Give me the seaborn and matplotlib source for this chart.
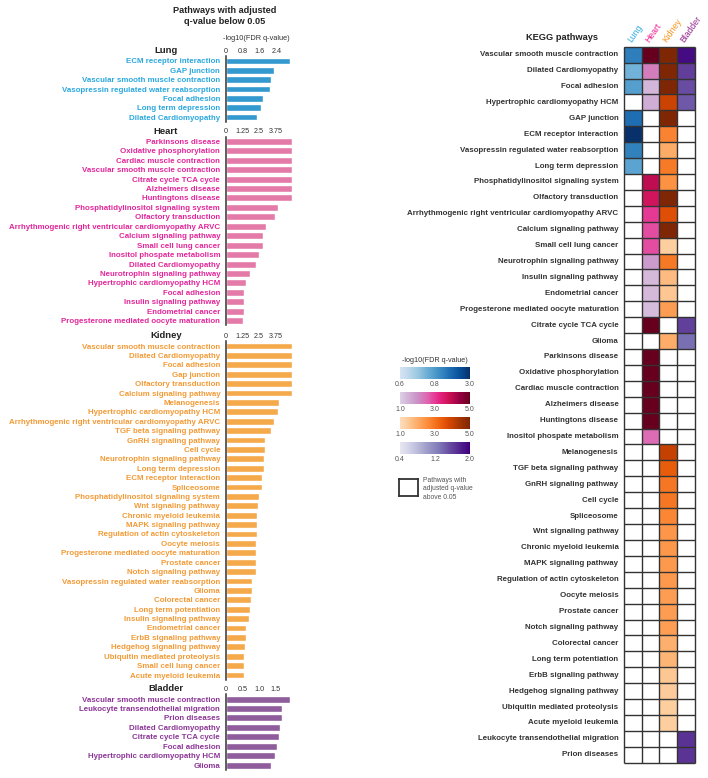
import numpy as np
import pandas as pd
import matplotlib
matplotlib.use('Agg')
from matplotlib import pyplot as plt
from matplotlib import colors as mcolors
from matplotlib.cm import ScalarMappable
import seaborn as sns

sns.set_style('white')
plt.rcParams['font.family'] = ['Liberation Sans', 'DejaVu Sans']

# datos de barras (-log10 FDR q-value)
lung_paths = ['ECM receptor interaction', 'GAP junction', 'Vascular smooth muscle contraction',
              'Vasopressin regulated water reabsorption', 'Focal adhesion', 'Long term depression',
              'Dilated Cardiomyopathy']
lung_vals = [3.0, 2.29, 2.12, 2.09, 1.74, 1.68, 1.49]

heart_paths = ['Parkinsons disease', 'Oxidative phosphorylation', 'Cardiac muscle contraction',
               'Vascular smooth muscle contraction', 'Citrate cycle TCA cycle', 'Alzheimers disease',
               'Huntingtons disease', 'Phosphatidylinositol signaling system', 'Olfactory transduction',
               'Arrhythmogenic right ventricular cardiomyopathy ARVC', 'Calcium signaling pathway',
               'Small cell lung cancer', 'Inositol phospate metabolism', 'Dilated Cardiomyopathy',
               'Neurotrophin signaling pathway', 'Hypertrophic cardiomyopathy HCM', 'Focal adhesion',
               'Insulin signaling pathway', 'Endometrial cancer', 'Progesterone mediated oocyte maturation']
heart_vals = [5.0, 5.0, 5.0, 5.0, 5.0, 5.0, 5.0, 3.95, 3.7, 3.0, 2.8, 2.8, 2.48, 2.25,
              1.83, 1.55, 1.4, 1.35, 1.35, 1.3]

kidney_paths = ['Vascular smooth muscle contraction', 'Dilated Cardiomyopathy', 'Focal adhesion',
                'Gap junction', 'Olfactory transduction', 'Calcium signaling pathway', 'Melanogenesis',
                'Hypertrophic cardiomyopathy HCM', 'Arrhythmogenic right ventricular cardiomyopathy ARVC',
                'TGF beta signaling pathway', 'GnRH signaling pathway', 'Cell cycle',
                'Neurotrophin signaling pathway', 'Long term depression', 'ECM receptor interaction',
                'Spliceosome', 'Phosphatidylinositol signaling system', 'Wnt signaling pathway',
                'Chronic myeloid leukemia', 'MAPK signaling pathway', 'Regulation of actin cytoskeleton',
                'Oocyte meiosis', 'Progesterone mediated oocyte maturation', 'Prostate cancer',
                'Notch signaling pathway', 'Vasopressin regulated water reabsorption', 'Glioma',
                'Colorectal cancer', 'Long term potentiation', 'Insulin signaling pathway',
                'Endometrial cancer', 'ErbB signaling pathway', 'Hedgehog signaling pathway',
                'Ubiquitin mediated proteolysis', 'Small cell lung cancer', 'Acute myeloid leukemia']
kidney_vals = [5.0, 5.0, 5.0, 5.0, 5.0, 5.0, 4.03, 3.95, 3.65, 3.38, 2.93, 2.93, 2.9, 2.88,
               2.73, 2.7, 2.48, 2.4, 2.38, 2.33, 2.33, 2.28, 2.28, 2.28, 2.25, 2.0, 1.98, 1.93,
               1.83, 1.73, 1.53, 1.5, 1.43, 1.4, 1.4, 1.38]

bladder_paths = ['Vascular smooth muscle contraction', 'Leukocyte transendothelial migration',
                 'Prion diseases', 'Dilated Cardiomyopathy', 'Citrate cycle TCA cycle', 'Focal adhesion',
                 'Hypertrophic cardiomyopathy HCM', 'Glioma']
bladder_vals = [1.92, 1.69, 1.68, 1.62, 1.60, 1.54, 1.47, 1.34]

kegg_rows = ['Vascular smooth muscle contraction', 'Dilated Cardiomyopathy', 'Focal adhesion',
             'Hypertrophic cardiomyopathy HCM', 'GAP junction', 'ECM receptor interaction',
             'Vasopressin regulated water reabsorption', 'Long term depression',
             'Phosphatidylinositol signaling system', 'Olfactory transduction',
             'Arrhythmogenic right ventricular cardiomyopathy ARVC', 'Calcium signaling pathway',
             'Small cell lung cancer', 'Neurotrophin signaling pathway', 'Insulin signaling pathway',
             'Endometrial cancer', 'Progesterone mediated oocyte maturation', 'Citrate cycle TCA cycle',
             'Glioma', 'Parkinsons disease', 'Oxidative phosphorylation', 'Cardiac muscle contraction',
             'Alzheimers disease', 'Huntingtons disease', 'Inositol phospate metabolism',
             'Melanogenesis', 'TGF beta signaling pathway', 'GnRH signaling pathway', 'Cell cycle',
             'Spliceosome', 'Wnt signaling pathway', 'Chronic myeloid leukemia', 'MAPK signaling pathway',
             'Regulation of actin cytoskeleton', 'Oocyte meiosis', 'Prostate cancer',
             'Notch signaling pathway', 'Colorectal cancer', 'Long term potentiation',
             'ErbB signaling pathway', 'Hedgehog signaling pathway', 'Ubiquitin mediated proteolysis',
             'Acute myeloid leukemia', 'Leukocyte transendothelial migration', 'Prion diseases']

tissues = ['Lung', 'Heart', 'Kidney', 'Bladder']
tick_sets = [[0, 0.8, 1.6, 2.4], [0, 1.25, 2.5, 3.75], [0, 1.25, 2.5, 3.75], [0, 0.5, 1.0, 1.5]]
tick_text = [['0', '0.8', '1.6', '2.4'], ['0', '1.25', '2.5', '3.75'],
             ['0', '1.25', '2.5', '3.75'], ['0', '0.5', '1.0', '1.5']]
cbar_lims = [(0.6, 3.0), (1.0, 5.0), (1.0, 5.0), (0.4, 2.0)]
cbar_text = [['0.6', '0.8', '3.0'], ['1.0', '3.0', '5.0'], ['1.0', '3.0', '5.0'], ['0.4', '1.2', '2.0']]

bar_colors = ['#3399cf', '#e47aa8', '#f4a94b', '#8f5c9c']
text_colors = ['#2aa8df', '#e2269a', '#f39a35', '#8b3596']
head_colors = ['#2aa8df', '#ec1c8f', '#f7941d', '#92278f']
cmap_names = ['Blues', 'PuRd', 'Oranges', 'Purples']

W, H = 708, 778
fs_lab = 5.7


def caja(l, t, r, b):
    return [l / W, 1 - b / H, (r - l) / W, (b - t) / H]


def recortar(nombre, lo=0.18):
    base = plt.get_cmap(nombre)
    return mcolors.ListedColormap(base(np.linspace(lo, 1, 256)))


fig = plt.figure(figsize=(W / 100, H / 100), dpi=100)

# paneles de barras
paneles = [(lung_paths, lung_vals, 56.3, 121.7, 3.21),
           (heart_paths, heart_vals, 136.6, 325.4, 5.12),
           (kidney_paths, kidney_vals, 341.3, 679.7, 5.12),
           (bladder_paths, bladder_vals, 694.3, 770.0, 2.04)]

for i, (nombres, valores, top, bot, xmax) in enumerate(paneles):
    ax = fig.add_axes(caja(225.7, top, 294, bot))
    sns.barplot(x=valores, y=nombres, color=bar_colors[i], saturation=1, width=0.74, ax=ax)
    ax.set_xlim(0, xmax)
    ax.xaxis.tick_top()
    ax.set_xticks(tick_sets[i])
    ax.set_xticklabels(tick_text[i], fontsize=5.2, color='#333333')
    ax.tick_params(axis='x', length=0, pad=1.2)
    ax.tick_params(axis='y', length=0, pad=4)
    for lab in ax.get_yticklabels():
        lab.set_fontsize(fs_lab)
        lab.set_fontweight('bold')
        lab.set_color(text_colors[i])
    for s in ['top', 'right', 'bottom']:
        ax.spines[s].set_visible(False)
    ax.spines['left'].set_color('#333333')
    ax.spines['left'].set_linewidth(1.1)
    ax.set_xlabel('')
    ax.set_ylabel('')
    fig.text(166 / W, 1 - (top - 5.5) / H, tissues[i], ha='center', va='center',
             fontsize=6.8, fontweight='bold', color='#222222')

fig.text(224.5 / W, 1 - 16 / H, 'Pathways with adjusted\nq-value below 0.05', ha='center', va='center',
         fontsize=6.6, fontweight='bold', color='#222222', linespacing=1.25)
fig.text(256.7 / W, 1 - 38.3 / H, '-log10(FDR q-value)', ha='center', va='center',
         fontsize=5.3, color='#333333')

# heatmap KEGG
lookup = [dict(zip(lung_paths, lung_vals)), dict(zip(heart_paths, heart_vals)),
          dict(zip(kidney_paths, kidney_vals)), dict(zip(bladder_paths, bladder_vals))]
alias = {'Gap junction': 'GAP junction'}
heat = pd.DataFrame(index=kegg_rows, columns=tissues, dtype=float)
for j, t in enumerate(tissues):
    for k, v in lookup[j].items():
        heat.loc[alias.get(k, k), t] = v

axh = fig.add_axes(caja(624, 46.7, 694.7, 762.7))
cmaps = [recortar(n) for n in cmap_names]
for j, t in enumerate(tissues):
    mask = np.ones(heat.shape, dtype=bool)
    mask[:, j] = heat[t].isna().values
    sns.heatmap(heat, mask=mask, cmap=cmaps[j], vmin=cbar_lims[j][0], vmax=cbar_lims[j][1],
                cbar=False, ax=axh, xticklabels=tissues, yticklabels=kegg_rows)
axh.hlines(np.arange(len(kegg_rows) + 1), 0, len(tissues), color='#333333', lw=1.0, clip_on=False)
axh.vlines(np.arange(len(tissues) + 1), 0, len(kegg_rows), color='#333333', lw=1.0, clip_on=False)
axh.xaxis.tick_top()
axh.set_xticklabels(tissues, rotation=55, ha='left', rotation_mode='anchor', fontsize=6.2)
for lab, c in zip(axh.get_xticklabels(), head_colors):
    lab.set_color(c)
axh.set_yticklabels(kegg_rows, rotation=0, fontsize=fs_lab, fontweight='bold', color='#333333')
axh.tick_params(length=0, pad=4)
axh.tick_params(axis='x', pad=2)
fig.text(561.7 / W, 1 - 38 / H, 'KEGG pathways', ha='center', va='center',
         fontsize=6.7, fontweight='bold', color='#222222')

# barras de color
fig.text(435 / W, 1 - 360.7 / H, '-log10(FDR q-value)', ha='center', va='center',
         fontsize=5.2, color='#333333')
for j in range(4):
    top = 367.3 + 25 * j
    cax = fig.add_axes(caja(400, top, 470, top + 11.7))
    lo, hi = cbar_lims[j]
    cb = fig.colorbar(ScalarMappable(norm=mcolors.Normalize(lo, hi), cmap=cmaps[j]),
                      cax=cax, orientation='horizontal')
    cb.outline.set_visible(False)
    cb.set_ticks([lo, (lo + hi) / 2, hi])
    cb.set_ticklabels(cbar_text[j])
    cax.tick_params(length=0, pad=1.5, labelsize=5.0, labelcolor='#555555')

lax = fig.add_axes(caja(399.3, 479.3, 418.3, 496))
lax.set_xticks([])
lax.set_yticks([])
for s in lax.spines.values():
    s.set_color('#333333')
    s.set_linewidth(1.3)
fig.text(423.3 / W, 1 - 476.7 / H, 'Pathways with\nadjusted q-value\nabove 0.05', ha='left', va='top',
         fontsize=4.9, color='#555555', linespacing=1.3)

fig.savefig('out.png', dpi=100)
